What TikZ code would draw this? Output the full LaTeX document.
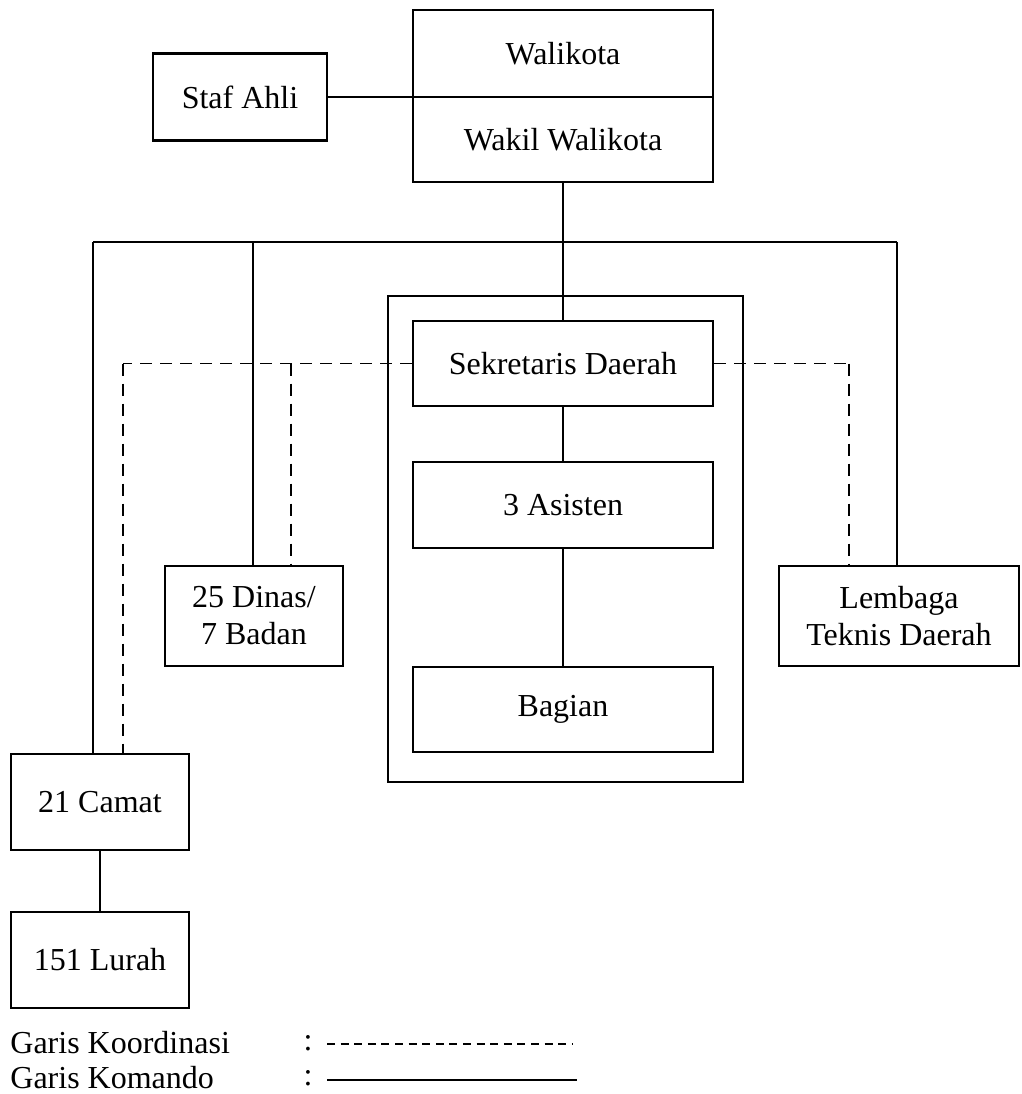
\documentclass[tikz,border=0pt]{standalone}
\usepackage{fontspec}
\setmainfont{Liberation Serif}
\usepackage{tikz}
\usetikzlibrary{
  chains,
  positioning,
  scopes
}

\begin{document}
\begin{tikzpicture}[
      x=0.5pt,y=-0.5pt,
      unit/.style={
         rectangle,
         draw=black,
         line width=1.2pt,
         inner sep=0pt,
         align=center,
         font=\fontsize{16}{18.5}\selectfont,
         %text height=1.5ex,
         %text depth=.25ex
      },
      legend/.style={
         inner sep=0pt,
         font=\fontsize{16}{18.5}\selectfont
      },
      point/.style={coordinate},
      every join/.style={line width=0.9pt},
      koord/.style={dash pattern=on 6pt off 4pt},
      hv path/.style={to path={-| (\tikztotarget)}},
      vh path/.style={to path={|- (\tikztotarget)}}
    ]
    \useasboundingbox (0,0) rectangle (1022,1094);
    % boxes
    \node (walikota) [unit, minimum width=150pt, minimum height=43.5pt] at (563,53.5) {Walikota};
    \node (wakil) [unit, minimum width=150pt, minimum height=42.5pt] at (563,139.5) {Wakil Walikota};
    \node (staf) [unit, minimum width=87pt, minimum height=43.5pt] at (240,97) {Staf Ahli};
    \node (sekfrm) [unit, minimum width=177.5pt, minimum height=243pt] at (565.5,539) {};
    \node (sekda) [unit, minimum width=150pt, minimum height=42.5pt] at (563,363.5) {Sekretaris Daerah};
    \node (asisten) [unit, minimum width=150pt, minimum height=43pt] at (563,505) {3 Asisten};
    \node (bagian) [unit, minimum width=150pt, minimum height=42.5pt] at (563,709.5) {Bagian};
    \node (dinas) [unit, minimum width=89pt, minimum height=50pt] at (254,616) {25 Dinas/\\7 Badan};
    \node (lembaga) [unit, minimum width=120pt, minimum height=50pt] at (899,616) {Lembaga\\Teknis Daerah};
    \node (camat) [unit, minimum width=89pt, minimum height=48pt] at (100,802) {21 Camat};
    \node (lurah) [unit, minimum width=89pt, minimum height=48pt] at (100,960) {151 Lurah};
    % junction points
    \node (n11) [point] at (413,97) {};
    \node (n21) [point] at (563,242) {};
    \node (n22) [point] at (93,242) {};
    \node (n23) [point] at (253,242) {};
    \node (n24) [point] at (897,242) {};
    \node (n31) [point] at (93,754) {};
    \node (n32) [point] at (253,566) {};
    \node (n33) [point] at (897,566) {};
    \node (d11) [point] at (123,363.5) {};
    \node (d12) [point] at (291,363.5) {};
    \node (d13) [point] at (849,363.5) {};
    \node (d21) [point] at (123,754) {};
    \node (d22) [point] at (291,566) {};
    \node (d23) [point] at (849,566) {};
  { [start chain]
       \chainin (staf);
       \chainin (n11)    [join];
  }
  { [start chain]
       \chainin (wakil);
       \chainin (n21)    [join];
       \chainin (sekda)  [join];
  }
  { [start chain]
       \chainin (n22);
       \chainin (n24)    [join];
  }
  { [start chain]
       \chainin (n22);
       \chainin (n31)    [join];
  }
  { [start chain]
       \chainin (n23);
       \chainin (n32)    [join];
  }
  { [start chain]
       \chainin (n24);
       \chainin (n33)    [join];
  }
  { [start chain]
       \chainin (sekda);
       \chainin (asisten)    [join];
       \chainin (bagian)    [join];
  }
  { [start chain]
       \chainin (camat);
       \chainin (lurah)    [join];
  }
  { [start chain]
       \chainin (sekda);
       \chainin (d11)    [join=by koord];
       \chainin (d21)    [join=by koord];
  }
  { [start chain]
       \chainin (d12);
       \chainin (d22)    [join=by koord];
  }
  { [start chain]
       \chainin (sekda);
       \chainin (d13)    [join=by koord];
       \chainin (d23)    [join=by koord];
  }
    % legend
    \node (lg1) [legend, anchor=west] at (10,1043) {Garis Koordinasi};
    \node (lg2) [legend, anchor=west] at (10,1078) {Garis Komando};
    \node (lc1) [legend] at (308,1043) {:};
    \node (lc2) [legend] at (308,1078) {:};
    \node (l11) [point] at (327,1044) {};
    \node (l12) [point] at (573,1044) {};
    \node (l21) [point] at (327,1080) {};
    \node (l22) [point] at (577,1080) {};
  { [start chain]
       \chainin (l11);
       \chainin (l12)    [join=by {dash pattern=on 4pt off 2.8pt}];
  }
  { [start chain]
       \chainin (l21);
       \chainin (l22)    [join];
  }
\end{tikzpicture}
\end{document}
